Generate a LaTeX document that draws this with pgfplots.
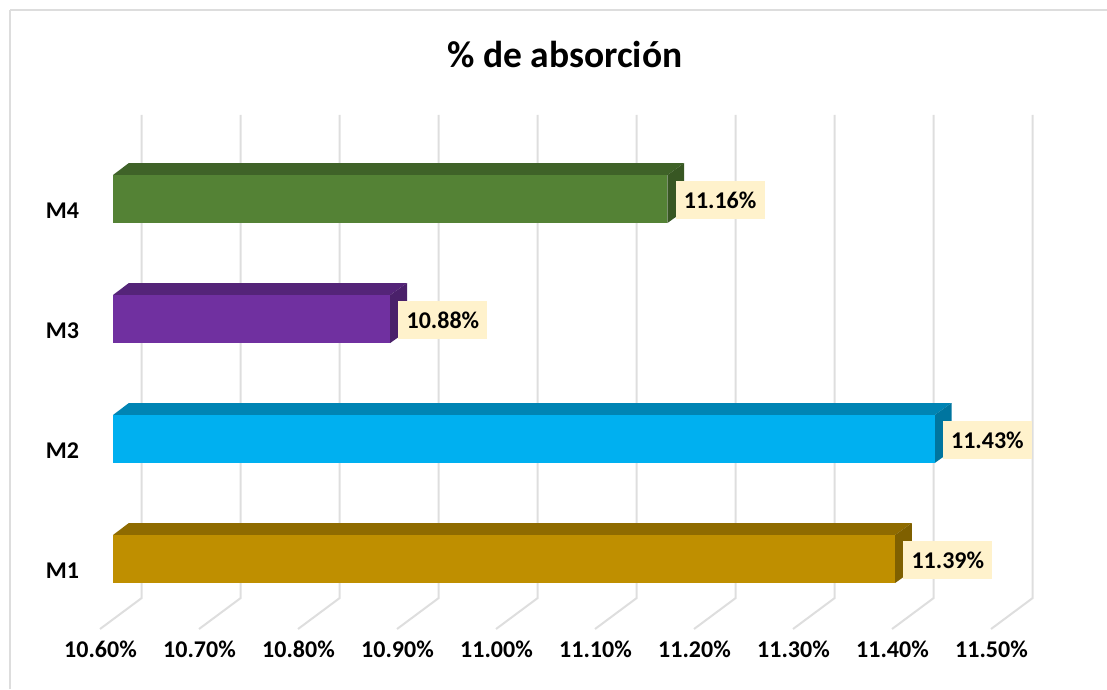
\documentclass[border=0pt]{standalone}
\usepackage{pgfplots}
\pgfplotsset{compat=1.18}
\usepackage{fontspec}
\setmainfont{Carlito}
\definecolor{gridc}{HTML}{DEDEDE}
\definecolor{frc}{HTML}{DDDDDD}
\definecolor{lab}{HTML}{FFF2CC}
\definecolor{aF}{HTML}{BF8F00}\definecolor{aT}{HTML}{8F6B00}\definecolor{aS}{HTML}{7F6000}
\definecolor{bF}{HTML}{00B0F0}\definecolor{bT}{HTML}{0084B4}\definecolor{bS}{HTML}{00759F}
\definecolor{cF}{HTML}{7030A0}\definecolor{cT}{HTML}{542478}\definecolor{cS}{HTML}{4A206A}
\definecolor{dF}{HTML}{548235}\definecolor{dT}{HTML}{3F6228}\definecolor{dS}{HTML}{385723}
\begin{document}
\begin{tikzpicture}[x=1pt,y=1pt]
\path[use as bounding box] (0,0) rectangle (1107,689);
\begin{axis}[
  at={(100pt,60pt)},anchor=south west,
  scale only axis,width=940pt,height=529pt,
  x coord trafo/.code={\pgfmathparse{#1-10.6}},
  xmin=10.58687,xmax=11.53636,
  ymin=-0.58333,ymax=3.825,
  clip=false,
  axis line style={draw=none},
  major tick length=0pt,
  xtick={10.6,10.7,10.8,10.9,11.0,11.1,11.2,11.3,11.4,11.5},
  xticklabels={10.60\%,10.70\%,10.80\%,10.90\%,11.00\%,11.10\%,11.20\%,11.30\%,11.40\%,11.50\%},
  xticklabel style={font=\fontsize{24}{26}\selectfont\bfseries,xshift=-12.5pt,yshift=-8pt,anchor=north},
  ytick={0,1,2,3},
  yticklabels={M1,M2,M3,M4},
  yticklabel style={font=\fontsize{24}{26}\selectfont\bfseries,anchor=east,xshift=-17.5pt,yshift=-12pt},
  title={\fontsize{37.5}{40}\selectfont\bfseries \% de absorción},
  title style={at={(0.5,1)},anchor=center,xshift=-5pt,yshift=39pt},
  nodes near coords style={fill=lab,font=\fontsize{24}{26}\selectfont\bfseries,text=black,
     anchor=west,xshift=8pt,yshift=-1pt,minimum height=38pt,minimum width=89pt,inner sep=0pt},
]
% chart frame
\addplot[frc,line width=2pt,forget plot] coordinates {(10.496,-1.0833) (10.496,4.575)};
\addplot[frc,line width=1.3pt,forget plot] coordinates {(10.496,4.575) (11.604,4.575)};
% grid lines
\addplot[gridc,line width=2pt,forget plot] coordinates {(10.5869,-0.5833)(10.629,-0.325)(10.629,3.70)};
\addplot[gridc,line width=2pt,forget plot] coordinates {(10.6869,-0.5833)(10.729,-0.325)(10.729,3.70)};
\addplot[gridc,line width=2pt,forget plot] coordinates {(10.7869,-0.5833)(10.829,-0.325)(10.829,3.70)};
\addplot[gridc,line width=2pt,forget plot] coordinates {(10.8869,-0.5833)(10.929,-0.325)(10.929,3.70)};
\addplot[gridc,line width=2pt,forget plot] coordinates {(10.9869,-0.5833)(11.029,-0.325)(11.029,3.70)};
\addplot[gridc,line width=2pt,forget plot] coordinates {(11.0869,-0.5833)(11.129,-0.325)(11.129,3.70)};
\addplot[gridc,line width=2pt,forget plot] coordinates {(11.1869,-0.5833)(11.229,-0.325)(11.229,3.70)};
\addplot[gridc,line width=2pt,forget plot] coordinates {(11.2869,-0.5833)(11.329,-0.325)(11.329,3.70)};
\addplot[gridc,line width=2pt,forget plot] coordinates {(11.3869,-0.5833)(11.429,-0.325)(11.429,3.70)};
\addplot[gridc,line width=2pt,forget plot] coordinates {(11.4869,-0.5833)(11.529,-0.325)(11.529,3.70)};
% top and side faces (M1..M4)
\addplot[draw=none,fill=aT,forget plot] coordinates {(10.6,0.2)(10.616,0.3)(11.407,0.3)(11.39,0.2)};
\addplot[draw=none,fill=aS,forget plot] coordinates {(11.39,0.2)(11.407,0.3)(11.407,-0.1)(11.39,-0.2)};
\addplot[draw=none,fill=bT,forget plot] coordinates {(10.6,1.2)(10.616,1.3)(11.447,1.3)(11.43,1.2)};
\addplot[draw=none,fill=bS,forget plot] coordinates {(11.43,1.2)(11.447,1.3)(11.447,0.9)(11.43,0.8)};
\addplot[draw=none,fill=cT,forget plot] coordinates {(10.6,2.2)(10.616,2.3)(10.897,2.3)(10.88,2.2)};
\addplot[draw=none,fill=cS,forget plot] coordinates {(10.88,2.2)(10.897,2.3)(10.897,1.9)(10.88,1.8)};
\addplot[draw=none,fill=dT,forget plot] coordinates {(10.6,3.2)(10.616,3.3)(11.177,3.3)(11.16,3.2)};
\addplot[draw=none,fill=dS,forget plot] coordinates {(11.16,3.2)(11.177,3.3)(11.177,2.9)(11.16,2.8)};
% bars
\addplot[xbar,bar width=48pt,bar shift=0pt,draw=none,fill=aF,point meta=explicit symbolic,nodes near coords] coordinates {(11.39,0)[11.39\%]};
\addplot[xbar,bar width=48pt,bar shift=0pt,draw=none,fill=bF,point meta=explicit symbolic,nodes near coords] coordinates {(11.43,1)[11.43\%]};
\addplot[xbar,bar width=48pt,bar shift=0pt,draw=none,fill=cF,point meta=explicit symbolic,nodes near coords] coordinates {(10.88,2)[10.88\%]};
\addplot[xbar,bar width=48pt,bar shift=0pt,draw=none,fill=dF,point meta=explicit symbolic,nodes near coords] coordinates {(11.16,3)[11.16\%]};
\end{axis}
\end{tikzpicture}
\end{document}
